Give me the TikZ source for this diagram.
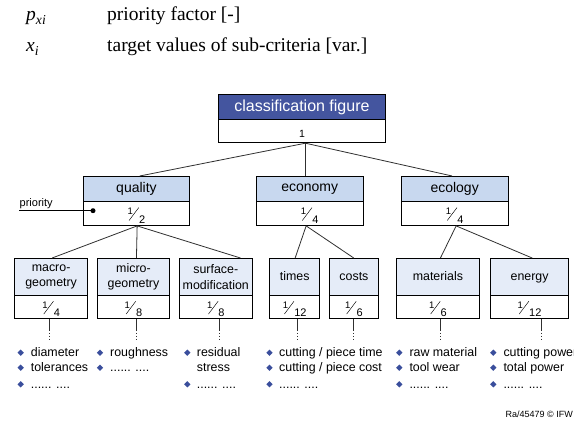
\documentclass[tikz,border=0pt]{standalone}
\usepackage{fontspec}
\setmainfont{Liberation Serif}
\setsansfont{Liberation Sans}
\usetikzlibrary{shapes.geometric}

\definecolor{hdrdark}{HTML}{44559F}
\definecolor{hdrmid}{HTML}{C8D8EF}
\definecolor{hdrpale}{HTML}{E5ECF8}
\definecolor{bulblue}{HTML}{3A4E9C}
\definecolor{linkgray}{HTML}{303030}

% stacked fraction: small raised numerator, slanted bar, denominator
\newcommand\fr[2]{%
  \raisebox{8.6pt}{\fontsize{9.5}{9.5}\selectfont #1}%
  \kern-4pt\raisebox{2.6pt}{\rotatebox{53}{\rule{16pt}{0.45pt}}}%
  \kern0.2pt{\fontsize{11}{11}\selectfont #2}}

% criterion box: header part and value part
% #1 name, #2 header style, #3 left, #4 right, #5 top, #6 split, #7 bottom, #8 title, #9 value
\newcommand\critbox[9]{%
  \node[#2, minimum width={#4-#3}, minimum height={#6-#5}] (#1) at (#3,#5) {#8};
  \node[valbox, minimum width={#4-#3}, minimum height={#7-#6}] (#1-v) at (#3,#6) {#9};
}

\begin{document}
\begin{tikzpicture}[x=1pt,y=-1pt,
  box/.style={draw=black, line width=0.9pt, inner sep=0pt, anchor=north west, align=center},
  hdrtop/.style={box, fill=hdrdark, text=white, font=\sffamily\fontsize{16}{16}\selectfont},
  hdrmain/.style={box, fill=hdrmid, font=\sffamily\fontsize{14}{14}\selectfont},
  hdrsub/.style={box, fill=hdrpale, font=\sffamily\fontsize{12.4}{15.5}\selectfont},
  oneline/.style={text height=9pt, text depth=2.6pt},
  valbox/.style={box, fill=white, font=\sffamily, text height=19.4pt, text depth=0pt},
  link/.style={draw=linkgray, line width=0.8pt},
  bul/.style={diamond, fill=bulblue, inner sep=0pt, minimum size=6.5pt},
  itm/.style={anchor=base west, inner sep=0pt, font=\sffamily\fontsize{12.4}{12.4}\selectfont},
  legend/.style={anchor=base west, inner sep=0pt, font=\rmfamily\fontsize{19.5}{19.5}\selectfont},
]
\fill[white] (0,0) rectangle (574,443);
\useasboundingbox (0,0) rectangle (574,443);

% legend
\node[legend] (sym1) at (26,21) {\textit{p}\textsubscript{\textit{xi}}};
\node[legend] (desc1) at (107,21) {priority factor [-]};
\node[legend] (sym2) at (26,52) {\textit{x}\textsubscript{\textit{i}}};
\node[legend] (desc2) at (107,52) {target values of sub-criteria [var.]};

% top box
\node[hdrtop, minimum width=167, minimum height=25] (cls) at (218,94.3) {classification figure};
\node[valbox, minimum width=167, minimum height=23, text height=11.8pt,
      font=\sffamily\fontsize{10.5}{10.5}\selectfont] (cls-v) at (218,119.3) {1};

% main criteria
\critbox{qual}{hdrmain}{82.7}{189.3}{176}{201}{225}{quality}{\fr12}
\critbox{econ}{hdrmain}{256}{362.5}{176}{201}{225}{economy}{\fr14}
\critbox{ecol}{hdrmain}{400.7}{507.7}{176}{201}{225}{ecology}{\fr14}

% sub-criteria
\critbox{mac}{hdrsub}{14}{87.3}{258}{295}{318.3}{macro-\\geometry}{\fr14}
\critbox{mic}{hdrsub}{96.7}{169.3}{258}{295}{318.3}{micro-\\geometry}{\fr18}
\critbox{sur}{hdrsub}{179}{251.7}{258}{295}{318.3}{surface-\\modification}{\fr18}
\critbox{tim}{hdrsub,oneline}{269.3}{319.3}{258}{295}{318.3}{times}{\fr1{12}}
\critbox{cos}{hdrsub,oneline}{328.7}{378.3}{258}{295}{318.3}{costs}{\fr16}
\critbox{mat}{hdrsub,oneline}{396}{479}{258}{295}{318.3}{materials}{\fr16}
\critbox{ene}{hdrsub,oneline}{490}{568.3}{258}{295}{318.3}{energy}{\fr1{12}}

% tree connectors
\draw[link] ([xshift=3.5pt]cls-v.south) -- ([xshift=3.3pt]qual.north);
\draw[link] ([xshift=3.5pt]cls-v.south) -- ([xshift=-4.25pt]econ.north);
\draw[link] ([xshift=3.5pt]cls-v.south) -- ([xshift=-2.5pt]ecol.north);

\draw[link] ([xshift=0.7pt]qual-v.south) -- ([xshift=1.05pt]mac.north);
\draw[link] ([xshift=0.7pt]qual-v.south) -- ([xshift=3pt]mic.north);
\draw[link] ([xshift=0.7pt]qual-v.south) -- ([xshift=24.65pt]sur.north);
\draw[link] ([xshift=-3.55pt]econ-v.south) -- ([xshift=0.4pt]tim.north);
\draw[link] ([xshift=-3.55pt]econ-v.south) -- ([xshift=-0.2pt]cos.north);
\draw[link] ([xshift=1.5pt]ecol-v.south) -- ([xshift=2.5pt]mat.north);
\draw[link] ([xshift=1.5pt]ecol-v.south) -- ([xshift=2.55pt]ene.north);

% leads from the sub-criteria down to their lists
\foreach \n/\s in {mac/-1.35, mic/3, sur/3.95, tim/3, cos/-0.2, mat/2.5, ene/11.85}{
  \draw[link] ([xshift=\s pt]\n-v.south) -- ++(0,10.7) coordinate (\n-d);
  \draw[link, dash pattern=on 1.5pt off 1.5pt] (\n-d) -- ++(0,11);
}

% priority marker
\node[anchor=base west, inner sep=0pt, font=\sffamily\fontsize{11}{11}\selectfont] (plabel) at (19.5,207) {priority};
\node[circle, fill=black, inner sep=0pt, minimum size=5pt] (pdot) at (93,210.7) {};
\coordinate (pstart) at (19.3,210.7);
\draw[line width=0.8pt] (pstart) -- (pdot.center);

% target value lists
\node[bul] (b11) at (20.7,352.7) {};  \node[itm] (t11) at (30.7,356.5) {diameter};
\node[bul] (b12) at (20.7,367.7) {};  \node[itm] (t12) at (30.7,371.5) {tolerances};
\node[bul] (b13) at (20.7,384.3) {};  \node[itm] (t13) at (30.7,389) {...... ....};

\node[bul] (b21) at (100,352.7) {};   \node[itm] (t21) at (110,356.5) {roughness};
\node[bul] (b22) at (100,367.7) {};   \node[itm] (t22) at (110,371.5) {...... ....};

\node[bul] (b31) at (187.3,352.7) {}; \node[itm] (t31) at (196.7,356.5) {residual};
                                      \node[itm] (t32) at (196.7,371.5) {stress};
\node[bul] (b33) at (187.3,384.3) {}; \node[itm] (t33) at (196.7,389) {...... ....};

\node[bul] (b41) at (269.5,352.7) {}; \node[itm] (t41) at (279,356.5) {cutting / piece time};
\node[bul] (b42) at (269.5,367.7) {}; \node[itm] (t42) at (279,371.5) {cutting / piece cost};
\node[bul] (b43) at (269.5,384.3) {}; \node[itm] (t43) at (279,389) {...... ....};

\node[bul] (b51) at (399.3,352.7) {}; \node[itm] (t51) at (409.3,356.5) {raw material};
\node[bul] (b52) at (399.3,367.7) {}; \node[itm] (t52) at (409.3,371.5) {tool wear};
\node[bul] (b53) at (399.3,384.3) {}; \node[itm] (t53) at (409.3,389) {...... ....};

\node[bul] (b61) at (493.3,352.7) {}; \node[itm] (t61) at (503.3,356.5) {cutting power};
\node[bul] (b62) at (493.3,367.7) {}; \node[itm] (t62) at (503.3,371.5) {total power};
\node[bul] (b63) at (493.3,384.3) {}; \node[itm] (t63) at (503.3,389) {...... ....};

% footer
\node[anchor=east, inner sep=0pt, font=\sffamily\fontsize{9}{9}\selectfont] (foot) at (573,414.3) {Ra/45479 © IFW};
\end{tikzpicture}
\end{document}
